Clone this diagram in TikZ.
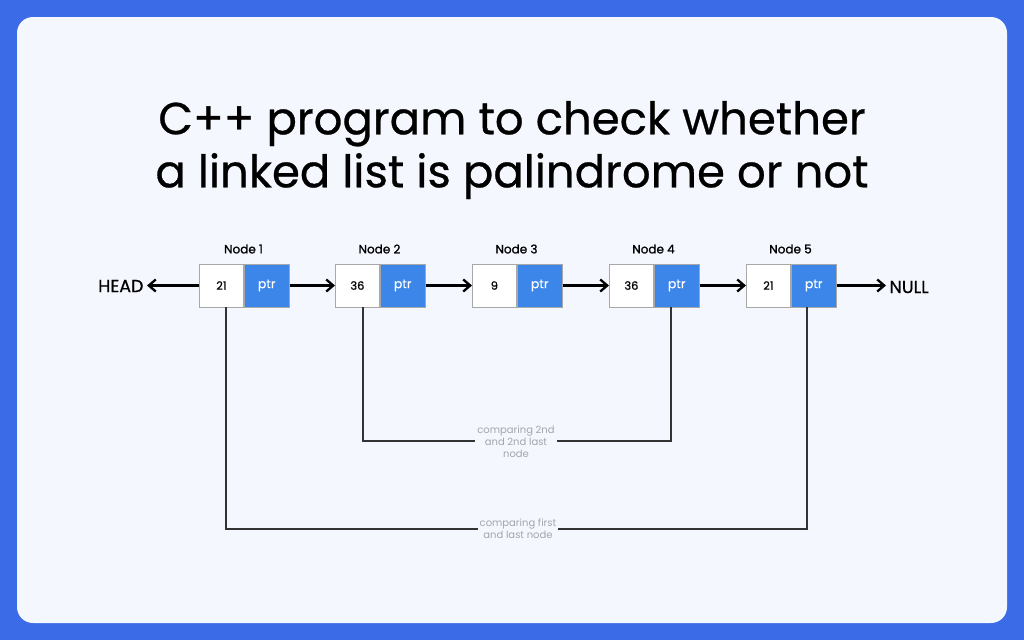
\documentclass[tikz,border=0pt]{standalone}
\usepackage{fontspec}
\setmainfont{Poppins}
\newfontfamily\medfont[FakeBold=0.6]{Poppins}
\newfontfamily\semifont[FakeBold=1.2]{Poppins}
\usetikzlibrary{arrows.meta}
\definecolor{bgblue}{HTML}{3B6BE6}
\definecolor{panel}{HTML}{F4F7FE}
\definecolor{ptrblue}{HTML}{3B86E8}
\definecolor{boxline}{HTML}{A8A8A8}
\definecolor{linegray}{HTML}{333333}
\definecolor{labgray}{HTML}{A5A5AD}
\tikzset{
  databox/.style={draw=boxline, line width=0.8pt, fill=white, minimum width=44pt, minimum height=43pt, inner sep=0pt, font=\medfont\fontsize{11.5}{13}\selectfont},
  ptrbox/.style={draw=boxline, line width=0.8pt, fill=ptrblue, text=white, minimum width=45pt, minimum height=43pt, inner sep=0pt, font=\medfont\fontsize{12.5}{14}\selectfont},
  nlabel/.style={font=\semifont\fontsize{12}{14}\selectfont},
  link/.style={-{Straight Barb[length=7pt,width=12pt]}, line width=2.3pt, black},
  cmp/.style={line width=1.6pt, linegray},
  cmplab/.style={text=labgray, font=\fontsize{10}{12}\selectfont, align=center, fill=panel, inner sep=2pt},
  endlab/.style={font=\medfont\fontsize{17.5}{20}\selectfont}
}
\begin{document}
\begin{tikzpicture}[x=1pt,y=-1pt]
\useasboundingbox (0,0) rectangle (1024,640);
\fill[bgblue] (0,0) rectangle (1024,640);
\fill[panel, rounded corners=16pt] (17,17) rectangle (1007,623);
\node[font=\medfont\fontsize{45}{53}\selectfont, align=center] (title) at (512,150) {C++ program to check whether\\a linked list is palindrome or not};
% nodes
\foreach \i/\x/\v in {1/199/21, 2/335/36, 3/472/9, 4/609/36, 5/746/21} {
  \node[databox, anchor=west] (d\i) at (\x,285.5) {\v};
  \node[ptrbox, anchor=west] (p\i) at (d\i.east) {ptr};
  \node[nlabel] (l\i) at (\x+44.5,249) {Node \i};
}
\node[endlab, anchor=east] (head) at (147,286) {HEAD};
\node[endlab, anchor=west] (null) at (886,287) {NULL};
\draw[link] (d1.west) -- (d1.west -| head.east);
\draw[link] (p1.east) -- (d2.west);
\draw[link] (p2.east) -- (d3.west);
\draw[link] (p3.east) -- (d4.west);
\draw[link] (p4.east) -- (d5.west);
\draw[link] (p5.east) -- (p5.east -| null.west);
% comparisons
\coordinate (a1) at (226,529);
\coordinate (a5) at (807,529);
\coordinate (a2) at (363,441);
\coordinate (a4) at (671,441);
\draw[cmp] (226,307) -- (a1) -- (a5) -- (807,307);
\draw[cmp] (363,307) -- (a2) -- (a4) -- (671,307);
\node[cmplab] (c2) at (516,442) {comparing 2nd\\and 2nd last\\node};
\node[cmplab] (c1) at (518,529) {comparing first\\and last node};
\end{tikzpicture}
\end{document}
